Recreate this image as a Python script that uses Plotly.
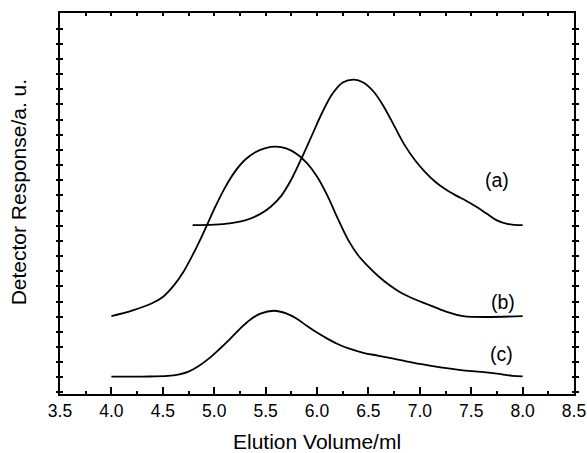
import plotly.graph_objects as go

# Elution profiles (detector response in arbitrary units)
x_a = [4.79, 5.00, 5.15, 5.30, 5.45, 5.55, 5.65, 5.75, 5.85, 5.95, 6.05, 6.15, 6.25, 6.36, 6.45,
       6.55, 6.65, 6.75, 6.85, 6.95, 7.05, 7.15, 7.25, 7.35, 7.45, 7.55, 7.65, 7.75, 7.85, 8.00]
y_a = [10.04, 10.07, 10.15, 10.35, 10.78, 11.25, 11.95, 13.05, 14.45, 15.95, 17.45, 18.70, 19.45,
       19.64, 19.45, 18.85, 17.85, 16.60, 15.35, 14.35, 13.55, 12.90, 12.40, 12.00, 11.65, 11.25,
       10.80, 10.35, 10.12, 10.04]

x_b = [4.00, 4.20, 4.40, 4.50, 4.60, 4.70, 4.80, 4.90, 5.00, 5.10, 5.20, 5.30, 5.40, 5.50, 5.60,
       5.70, 5.80, 5.90, 6.00, 6.10, 6.20, 6.30, 6.40, 6.50, 6.60, 6.70, 6.80, 6.95, 7.10, 7.25,
       7.42, 8.00]
y_b = [4.04, 4.40, 4.90, 5.30, 6.00, 6.95, 8.20, 9.60, 11.10, 12.45, 13.55, 14.35, 14.85, 15.12,
       15.21, 15.10, 14.75, 14.15, 13.25, 12.00, 10.50, 9.10, 8.05, 7.30, 6.65, 6.10, 5.65, 5.15,
       4.75, 4.35, 4.04, 4.04]

x_c = [4.00, 4.30, 4.55, 4.65, 4.75, 4.85, 4.95, 5.05, 5.15, 5.25, 5.35, 5.45, 5.58, 5.70, 5.80,
       5.90, 6.00, 6.10, 6.20, 6.30, 6.45, 6.60, 6.80, 7.00, 7.20, 7.40, 7.60, 7.75, 7.90, 8.00]
y_c = [0.04, 0.05, 0.09, 0.18, 0.38, 0.75, 1.25, 1.85, 2.50, 3.20, 3.80, 4.20, 4.39, 4.22, 3.88,
       3.40, 2.95, 2.55, 2.20, 1.92, 1.62, 1.42, 1.15, 0.88, 0.65, 0.48, 0.36, 0.24, 0.10, 0.06]

curve_names = ["(a)", "(b)", "(c)"]
label_x = [7.75, 7.81, 7.79]
label_y = [13.0, 4.98, 1.52]

x_range = [3.5, 8.5]
y_range = [-1.1, 24.03]

FONT = "Liberation Sans, Arial, sans-serif"

fig = go.Figure()
for xs, ys, name in zip([x_a, x_b, x_c], [y_a, y_b, y_c], curve_names):
    fig.add_trace(go.Scatter(
        x=xs, y=ys, mode="lines", name=name,
        line=dict(color="black", width=1.8, shape="spline", smoothing=1.0),
        showlegend=False, hoverinfo="skip",
    ))

for name, lx, ly in zip(curve_names, label_x, label_y):
    fig.add_annotation(x=lx, y=ly, text=name, showarrow=False,
                       font=dict(family=FONT, size=19.5, color="black"))

# axis titles
fig.add_annotation(x=0.5, y=0, xref="paper", yref="paper", yanchor="middle",
                   yshift=-47.7, text="Elution Volume/ml", showarrow=False,
                   font=dict(family=FONT, size=21, color="black"))
fig.add_annotation(x=0, y=0.528, xref="paper", yref="paper", xanchor="center",
                   xshift=-41.5, textangle=-90, text="Detector Response/a. u.",
                   showarrow=False, font=dict(family=FONT, size=21, color="black"))

fig.update_layout(
    width=587, height=453,
    margin=dict(l=60, r=13, t=13, b=59),
    paper_bgcolor="white", plot_bgcolor="white",
    font=dict(family=FONT, color="black"),
    xaxis=dict(
        range=x_range, tick0=3.5, dtick=0.5, tickformat=".1f",
        ticks="inside", ticklen=7, tickwidth=1.5, tickcolor="black",
        minor=dict(ticks="inside", ticklen=3.5, tickwidth=1.5, dtick=0.25, tickcolor="black"),
        showline=True, linewidth=2, linecolor="black", mirror=True,
        showgrid=False, zeroline=False, automargin=False,
        tickfont=dict(size=17.5, family=FONT),
    ),
    xaxis2=dict(
        range=x_range, overlaying="x", side="top", tick0=3.5, dtick=0.25,
        ticks="inside", ticklen=3, tickwidth=1.5, tickcolor="black",
        showticklabels=False, showline=False, showgrid=False, zeroline=False,
        automargin=False,
    ),
    yaxis=dict(
        range=y_range, tick0=0, dtick=1,
        ticks="inside", ticklen=2.5, tickwidth=1.5, tickcolor="black",
        showticklabels=False,
        showline=True, linewidth=2, linecolor="black", mirror="allticks",
        showgrid=False, zeroline=False, automargin=False,
    ),
)
# empty trace bound to the top tick axis so it is drawn
fig.add_trace(go.Scatter(x=[x_range[0]], y=[None], xaxis="x2", mode="lines",
                         showlegend=False, hoverinfo="skip"))

fig.write_html("out.html")
